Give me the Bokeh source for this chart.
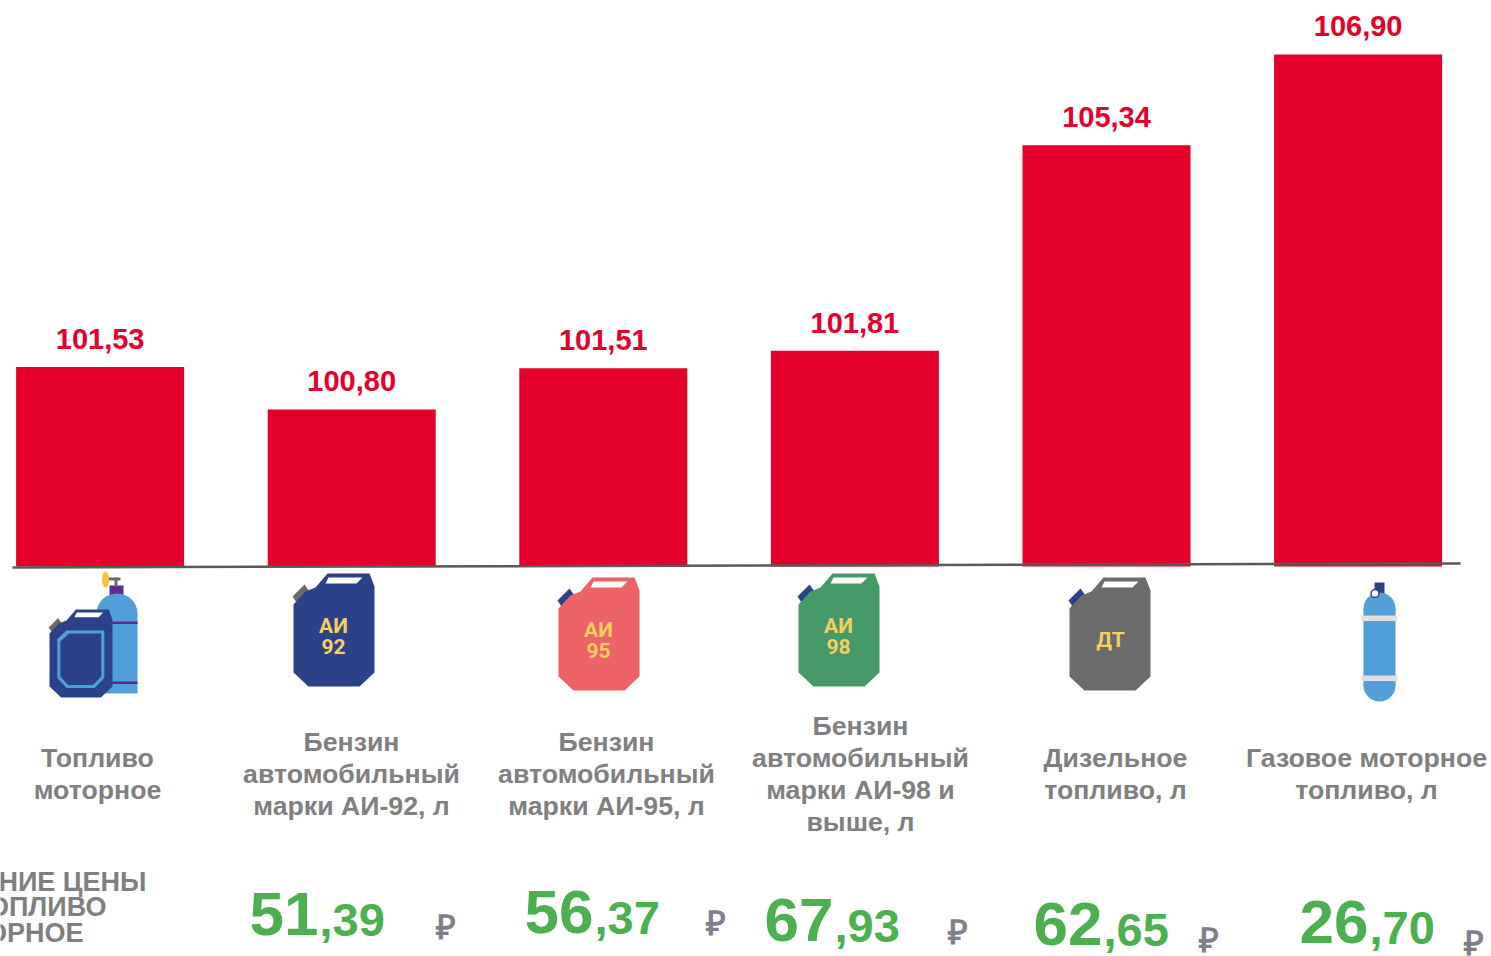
from bokeh.plotting import figure
from bokeh.models import Range1d
from bokeh.core.properties import value
from bokeh.embed import file_html
from bokeh.resources import INLINE

categories = [["Топливо", "моторное"],
              ["Бензин", "автомобильный", "марки АИ-92, л"],
              ["Бензин", "автомобильный", "марки АИ-95, л"],
              ["Бензин", "автомобильный", "марки АИ-98 и", "выше, л"],
              ["Дизельное", "топливо, л"],
              ["Газовое моторное", "топливо, л"]]
index_values = [101.53, 100.80, 101.51, 101.81, 105.34, 106.90]
prices = [None, 51.39, 56.37, 67.93, 62.65, 26.70]
side_title = ["НИЕ ЦЕНЫ", "ОПЛИВО", "ОРНОЕ"]

W, H = 1491, 956
RED = "#e4002b"; GREY = "#7f7f7f"; GREEN = "#4caf50"; RUB = "#7f7f8c"
YEL = "#f6cf5e"; NAVY = "#2b4289"; SKY = "#519fd9"; PURPLE = "#5e2a8c"
ARIAL = value("Liberation Sans")
BL = 0.38  # upward correction of the text baseline, in em

PX_PER_UNIT = 58.2
y_top = 100.80 + 409 / PX_PER_UNIT
y_bot = 100.80 - (H - 409) / PX_PER_UNIT
base = 100.80 - (566 - 409) / PX_PER_UNIT
STEP = 251.6

p = figure(width=W, height=H, output_backend="svg", toolbar_location=None,
           x_range=Range1d(-99.6 / STEP, (W - 99.6) / STEP), y_range=Range1d(y_bot, y_top),
           min_border=0, outline_line_color=None, x_axis_type="linear")
p.axis.visible = False
p.grid.visible = False
p.extra_x_ranges["px"] = Range1d(0, W)
p.extra_y_ranges["px"] = Range1d(H, 0)
p.styles = {"position": "absolute", "left": "0px", "top": "0px"}
PX = dict(x_range_name="px", y_range_name="px")

xs = list(range(len(index_values)))
p.vbar(x=xs, top=index_values, bottom=base, width=168 / STEP, fill_color=RED, line_color=None)
p.text(x=xs, y=index_values, text=[f"{v:.2f}".replace(".", ",") for v in index_values],
       text_font=ARIAL, text_font_style="bold", text_font_size="29px", text_color=RED,
       text_align="center", text_baseline="alphabetic", y_offset=-17 - BL * 29)
p.line([12, 1460], [567, 563], line_color="#595959", line_width=2.5, **PX)


def tx(x, y, s, size, color, align="center", style="bold", font=ARIAL):
    p.text(x=[x], y=[y - BL * size], text=[s], text_font=font, text_font_style=style, text_font_size=f"{size}px",
           text_color=color, text_align=align, text_baseline="alphabetic", **PX)


# category labels
cx = [97, 351, 606, 860, 1115, 1366]
first_base = [768, 752, 752, 736, 768, 768]
for c, fb, lines in zip(cx, first_base, categories):
    for i, s in enumerate(lines):
        tx(c, fb + 32 * i, s, 26.7, GREY)

# prices
px0 = [249, 524, 764, 1033, 1299]
pbase = [937, 935, 943, 947, 945]
rx = [445, 715, 957, 1208, 1473]
ry = [939, 935, 944, 952, 955]
for x, b, r, rb, v in zip(px0, pbase, rx, ry, prices[1:]):
    a, f = f"{v:.2f}".split(".")
    tx(x, b, a, 62, GREEN, "left")
    tx(x + 70, b, "," + f, 47, GREEN, "left")
    tx(r, rb, "₽", 34, RUB)

# side title
for xr, b, s in zip([146, 106, 83], [892, 917, 943], side_title):
    tx(xr, b, s, 27, GREY, "right")

# canister outlines in a 81 x 113 box
BODY = [(34, 0), (76, 0), (81, 13), (81, 99), (66, 113), (15, 113), (0, 99), (0, 31), (12, 18), (22, 14)]
HOLE = [(35, 4), (69, 4), (63, 10), (32, 10)]
CAP = [(-1, 23), (11, 11), (16, 18), (3, 29)]
INNER_OUT = [(22, 27), (70.5, 27), (70.5, 88), (58, 101), (22, 101), (10, 88), (10, 38)]
INNER_IN = [(25, 31), (66.5, 31), (66.5, 86), (56, 97), (24, 97), (14, 86), (14, 41)]


def poly(pts, left, top, color, s=1.0, **kw):
    p.patch([left + a * s for a, _ in pts], [top + b * s for _, b in pts], fill_color=color, line_color=None, **PX, **kw)


def can(left, top, color, capcolor, s=1.0):
    poly(CAP, left, top, capcolor, s)
    poly(BODY, left, top, color, s)
    poly(HOLE, left, top, "white", s)


def rrect(x0, x1, y0, y1, color):
    p.quad(left=[x0], right=[x1], top=[y0], bottom=[y1], fill_color=color, line_color=None, **PX)


def ell(x, y, w, h, color, line=None):
    p.ellipse(x=[x], y=[y], width=[w], height=[h], fill_color=color, line_color=line, line_width=1.5, **PX)


# fuel: gas bottle + canister
rrect(109, 123, 585, 596, PURPLE)
rrect(114, 117, 577, 586, "#6b6b6b")
rrect(102, 120, 577, 580, "#6b6b6b")
ell(105, 579, 7, 16, "#f9c23c")
ell(116.5, 613, 41, 40, SKY)
rrect(96, 137, 613, 693, SKY)
rrect(96, 137, 621, 623.5, PURPLE)
rrect(96, 137, 681, 683.5, PURPLE)
can(49, 609, NAVY, "#6b6b6b", 63 / 81)
poly(INNER_OUT, 49, 609, SKY, 63 / 81)
poly(INNER_IN, 49, 609, NAVY, 63 / 81)

F = value("Roboto")
for left, top, col, capc, l1, l2 in [(293, 573, NAVY, "#6b6b6b", "АИ", "92"), (558, 577, "#ee6365", NAVY, "АИ", "95"),
                                     (798, 573, "#469a68", NAVY, "АИ", "98")]:
    can(left, top, col, capc)
    tx(left + 40, top + 60, l1, 21, YEL, font=F)
    tx(left + 40, top + 81, l2, 21, YEL, font=F)
can(1069, 577, "#6b6b6b", NAVY)
tx(1110, 647, "ДТ", 21, YEL, font=F)

# gas cylinder
rrect(1374, 1384, 582, 595, NAVY)
ell(1379, 608, 32, 32, SKY)
ell(1379, 685, 32, 32, SKY)
rrect(1363, 1395, 608, 685, SKY)
rrect(1361, 1397, 615, 620.5, "#e0e0e0")
rrect(1361, 1397, 675, 680.5, "#e0e0e0")
ell(1374.5, 593, 8, 8, "white", NAVY)

open("out.html", "w").write(file_html(p, INLINE))
